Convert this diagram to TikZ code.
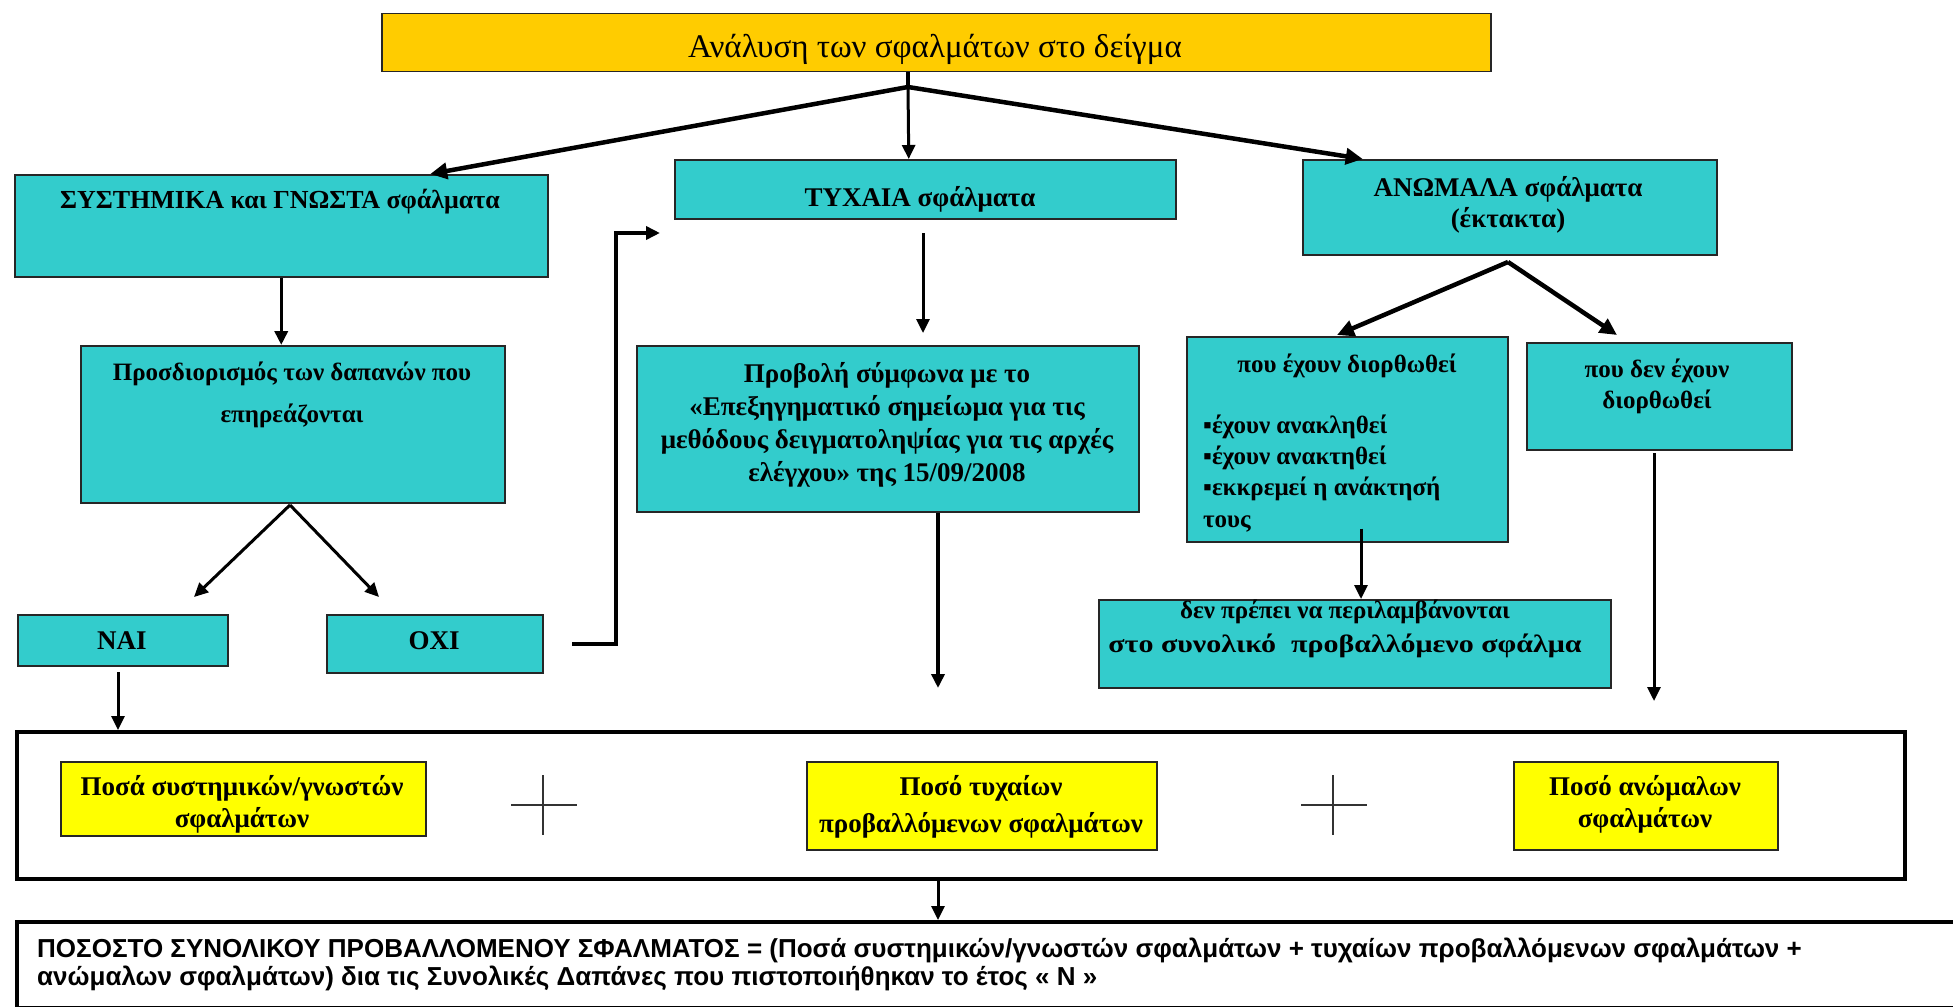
\documentclass[tikz,border=0pt]{standalone}
\usepackage{fontspec}
\usepackage{graphicx}
\setmainfont{Liberation Serif}
\newfontfamily\sansf{Liberation Sans}
\usetikzlibrary{arrows.meta,calc}
\definecolor{boxcyan}{HTML}{33CCCC}
\definecolor{boxgold}{HTML}{FFCC00}
\definecolor{boxyellow}{HTML}{FFFF00}
\begin{document}
\begin{tikzpicture}[x=1pt,y=-1pt,
  cbox/.style={draw=black!85,line width=1.5pt,fill=boxcyan,inner sep=0pt,anchor=north west},
  gbox/.style={cbox,fill=boxgold},
  ybox/.style={draw=black!85,line width=2pt,fill=boxyellow,inner sep=0pt,anchor=north west},
  frame/.style={draw=black,line width=4pt,fill=white,inner sep=0pt,anchor=north west},
  txt/.style={font=\bfseries\fontsize{27}{32}\selectfont,align=center,anchor=base,inner sep=0pt},
  stxt/.style={font=\bfseries\fontsize{25}{31}\selectfont,align=center,anchor=base,inner sep=0pt},
  arr/.style={-{Triangle[length=14pt,width=13pt]},line width=3pt},
  thickarr/.style={arr,line width=4.5pt,-{Triangle[length=17pt,width=16pt]}},
  plus/.style={line width=1.5pt,draw=black!80}
]
\useasboundingbox[fill=white] (0,0) rectangle (1953,1006);

% boxes
\node[gbox,minimum width=1109pt,minimum height=58pt] (top) at (381,13) {};
\node[cbox,minimum width=533pt,minimum height=102pt] (sys) at (14,174) {};
\node[cbox,minimum width=501pt,minimum height=59pt] (ty) at (674,159) {};
\node[cbox,minimum width=414pt,minimum height=95pt] (an) at (1302,159) {};
\node[cbox,minimum width=424pt,minimum height=157pt] (pros) at (80,345) {};
\node[cbox,minimum width=210pt,minimum height=51pt] (nai) at (17,614) {};
\node[cbox,minimum width=216pt,minimum height=58pt] (oxi) at (326,614) {};
\node[cbox,minimum width=502pt,minimum height=166pt] (prov) at (636,345) {};
\node[cbox,minimum width=321pt,minimum height=205pt] (fix) at (1186,336) {};
\node[cbox,minimum width=265pt,minimum height=107pt] (nfix) at (1526,342) {};
\node[cbox,minimum width=512pt,minimum height=88pt] (dpr) at (1098,599) {};
\node[frame,minimum width=1888pt,minimum height=147pt] (big) at (15,730) {};
\node[ybox,minimum width=365pt,minimum height=74pt] (y1) at (60,761) {};
\node[ybox,minimum width=350pt,minimum height=88pt] (y2) at (806,761) {};
\node[ybox,minimum width=264pt,minimum height=88pt] (y3) at (1513,761) {};
\node[frame,line width=3.5pt,minimum width=1960pt,minimum height=86pt] (bot) at (15,920) {};

% texts (multi-line nodes: base = baseline of last line)
\node[txt,font=\fontsize{33}{34}\selectfont] (ttop) at (935,58) {Ανάλυση των σφαλμάτων στο δείγμα};
\node[txt,font=\bfseries\fontsize{26}{32}\selectfont] (tsys) at (280,208) {ΣΥΣΤΗΜΙΚΑ και ΓΝΩΣΤΑ σφάλματα};
\node[txt] (tty) at (920,206) {ΤΥΧΑΙΑ σφάλματα};
\node[txt,font=\bfseries\fontsize{27}{31}\selectfont] (tan) at (1508,227) {ΑΝΩΜΑΛΑ σφάλματα\\(έκτακτα)};
\node[txt,font=\bfseries\fontsize{25}{42}\selectfont] (tpros) at (292,422) {Προσδιορισμός των δαπανών που\\επηρεάζονται};
\node[txt] (tnai) at (122,649) {ΝΑΙ};
\node[txt] (toxi) at (434,649) {ΟΧΙ};
\node[stxt,font=\bfseries\fontsize{27}{33}\selectfont] (tprov) at (887,481) {Προβολή σύμφωνα με το\\«Επεξηγηματικό σημείωμα για τις\\μεθόδους δειγματοληψίας για τις αρχές\\ελέγχου» της 15/09/2008};
\node[stxt] (tfix) at (1347,372) {που έχουν διορθωθεί};
\node[stxt,align=left,anchor=base west,font=\bfseries\fontsize{25}{31.3}\selectfont] (tfixl) at (1203,527) {▪έχουν ανακληθεί\\▪έχουν ανακτηθεί\\▪εκκρεμεί η ανάκτησή\\τους};
\node[stxt] (tnfix) at (1657,408) {που δεν έχουν\\διορθωθεί};
\node[stxt,font=\bfseries\fontsize{25}{34}\selectfont] (tdpr) at (1345,652) {δεν πρέπει να περιλαμβάνονται\\\scalebox{1.2}[1]{στο συνολικό\ \ προβαλλόμενο σφάλμα}};
\node[txt] (ty1) at (242,827) {Ποσά συστημικών/γνωστών\\σφαλμάτων};
\node[txt,font=\bfseries\fontsize{27}{37}\selectfont] (ty2) at (981,832) {Ποσό τυχαίων\\προβαλλόμενων σφαλμάτων};
\node[txt] (ty3) at (1645,827) {Ποσό ανώμαλων\\σφαλμάτων};
\node[font=\sansf\bfseries\fontsize{26}{28}\selectfont,align=left,anchor=base west,inner sep=0pt] (tbot) at (37,985) {ΠΟΣΟΣΤΟ ΣΥΝΟΛΙΚΟΥ ΠΡΟΒΑΛΛΟΜΕΝΟΥ ΣΦΑΛΜΑΤΟΣ = (Ποσά συστημικών/γνωστών σφαλμάτων + τυχαίων προβαλλόμενων σφαλμάτων +\\ανώμαλων σφαλμάτων) δια τις Συνολικές Δαπάνες που πιστοποιήθηκαν το έτος « N »};

% plus signs
\draw[plus] (543,775) -- (543,835) (511,805) -- (577,805);
\draw[plus] (1333,775) -- (1333,835) (1301,805) -- (1367,805);

% connectors
\coordinate (j1) at (908,87);
\draw[line width=4.5pt] (top.south -| j1) -- (j1);
\draw[thickarr] (j1) -- ([xshift=149pt]sys.north);
\draw[arr] (j1) -- ([xshift=-16.5pt]ty.north);
\draw[thickarr] (j1) -- ([xshift=-147pt]an.north);

\draw[arr,line width=3.5pt] (sys.south) -- (sys.south |- pros.north);

\coordinate (j2) at (290,505);
\coordinate (naiin) at (194,597);
\coordinate (oxiin) at (379,597);
\draw[arr] (j2) -- (naiin);
\draw[arr] (j2) -- (oxiin);

\coordinate (naiout) at (118,672);
\draw[arr] (naiout) -- (naiout |- big.north);

\coordinate (oxiout) at (572,644);
\coordinate (tyin) at (660,233);
\draw[arr,line width=4.5pt] (oxiout) -| ($(tyin)+(-44,0)$) -- (tyin);

\coordinate (tyout) at (923,233);
\coordinate (provin) at (923,333);
\draw[arr] (tyout) -- (provin);

\coordinate (provend) at (938,688);
\draw[arr,line width=3.5pt] (prov.south -| provend) -- (provend);

\coordinate (j3) at (1508,262);
\draw[thickarr] (j3) -- (1337,335);
\draw[thickarr] (j3) -- (1617,335);

\draw[arr] ([yshift=14pt]fix.south -| 1361,0) -- (dpr.north -| 1361,0);

\coordinate (nfixend) at (1654,701);
\draw[arr] (1654,453) -- (nfixend);

\draw[arr] (big.south -| 938,0) -- (bot.north -| 938,0);
\end{tikzpicture}
\end{document}
